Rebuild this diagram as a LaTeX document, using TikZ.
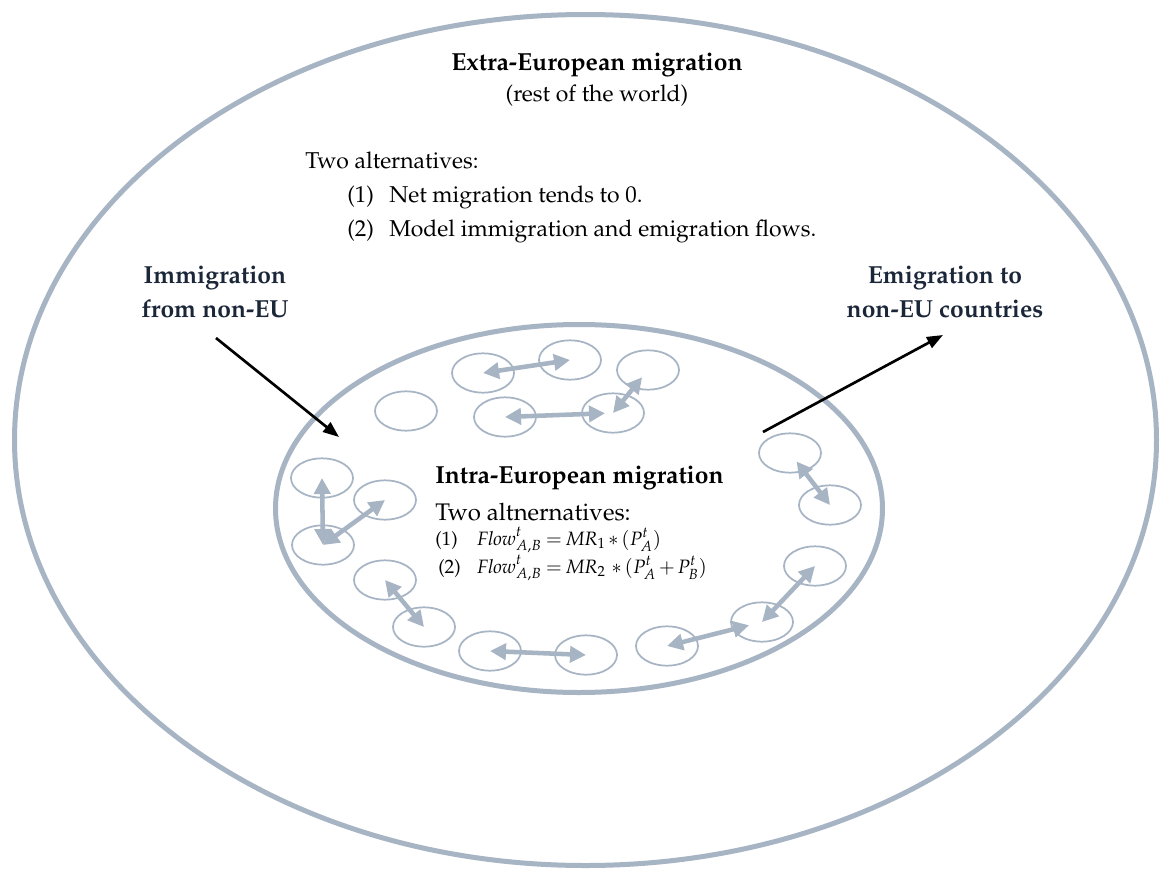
\documentclass[tikz,border=0pt]{standalone}
\usepackage[T1]{fontenc}
\usepackage{mathpazo}
\usetikzlibrary{arrows.meta,shapes.geometric}
\definecolor{ring}{HTML}{A7B4C4}
\definecolor{navy}{HTML}{1B2738}
\begin{document}
\begin{tikzpicture}[x=0.75pt,y=-0.75pt,
  cty/.style={draw=ring,line width=1.3pt,ellipse,minimum width=46.5pt,minimum height=29.5pt,inner sep=0pt},
  flow/.style={draw=ring,line width=3.4pt,{Triangle[length=12pt,width=12pt]}-{Triangle[length=12pt,width=12pt]}},
  mig/.style={draw=black,line width=2pt,-{Triangle[length=12pt,width=9pt]}},
  lab/.style={font=\fontsize{18.5}{22}\selectfont\bfseries,text=navy,anchor=base,inner sep=0pt},
  ttl/.style={font=\fontsize{18.5}{22}\selectfont\bfseries,anchor=base,inner sep=0pt},
  ttlb/.style={font=\fontsize{18.5}{22}\selectfont\bfseries,anchor=base west,inner sep=0pt},
  txt/.style={font=\fontsize{17.2}{20}\selectfont,anchor=base west,inner sep=0pt},
  txtc/.style={font=\fontsize{17.2}{20}\selectfont,anchor=base,inner sep=0pt},
  txtb/.style={font=\fontsize{18}{21}\selectfont,anchor=base west,inner sep=0pt},
  fml/.style={font=\fontsize{14.5}{17}\selectfont,anchor=base west,inner sep=0pt}]
\fill[white] (0,0) rectangle (1161,871);
\useasboundingbox (0,0) rectangle (1161,871);
% big rings
\draw[ring,line width=3.75pt] (585.5,440) ellipse [x radius=571, y radius=425.5];
\draw[ring,line width=3.75pt] (579,508.5) ellipse [x radius=303.5, y radius=184];
% top texts
\node[ttl] (title) at (597,70) {Extra-European migration};
\node[txtc] (rest) at (597,101) {(rest of the world)};
\node[txt] (alt) at (305,168) {Two alternatives:};
\node[txt] (a1n) at (347,202) {(1)};
\node[txt] (a1t) at (389,202) {Net migration tends to 0.};
\node[txt] (a2n) at (347,236) {(2)};
\node[txt] (a2t) at (389,236) {Model immigration and emigration flows.};
% labels
\node[lab] (im1) at (215,283) {Immigration};
\node[lab] (im2) at (215,317) {from non-EU};
\node[lab] (em1) at (945,283) {Emigration to};
\node[lab] (em2) at (945,317) {non-EU countries};
\coordinate (imS) at (216,338);
\coordinate (imT) at (339,437);
\coordinate (emS) at (763,432);
\coordinate (emT) at (943,335);
\draw[mig] (imS) -- (imT);
\draw[mig] (emS) -- (emT);
% inner texts
\node[ttlb] (intra) at (435,483) {Intra-European migration};
\node[txtb] (alt2) at (435,520) {Two altnernatives:};
\node[fml] (f1n) at (435,545) {(1)};
\node[fml] (f1) at (477,545) {\medmuskip=2.5mu\thickmuskip=4mu$\mathit{Flow}^{t}_{A,B} = \mathit{MR}_1 * (P^{t}_{A})$};
\node[fml] (f2n) at (438,573) {(2)};
\node[fml] (f2) at (477,573) {\medmuskip=2.5mu\thickmuskip=4mu$\mathit{Flow}^{t}_{A,B} = \mathit{MR}_2\, * (P^{t}_{A} + P^{t}_{B})$};
% small countries
\node[cty] (T1) at (483,373) {};
\node[cty] (T2) at (570,360) {};
\node[cty] (T3) at (648,370) {};
\node[cty] (T4) at (406,411) {};
\node[cty] (T5) at (505,417) {};
\node[cty] (T6) at (613,413) {};
\node[cty] (A) at (322,478) {};
\node[cty] (B) at (385,500) {};
\node[cty] (C) at (323,545) {};
\node[cty] (D) at (385,580) {};
\node[cty] (E) at (424,627) {};
\node[cty] (F) at (490,651) {};
\node[cty] (G) at (586,655) {};
\node[cty] (H) at (667,646) {};
\node[cty] (I) at (762,622) {};
\node[cty] (J) at (815,566) {};
\node[cty] (K) at (790,453) {};
\node[cty] (L) at (830,505) {};
% flows
\draw[flow] (T1.center) -- (T2.center);
\draw[flow,shorten >=6pt] (T5.center) -- (T6.center);
\draw[flow,shorten >=7pt] (T6.center) -- (T3.center);
\draw[flow] (A.center) -- (C.center);
\draw[flow] (B.center) -- (C.center);
\draw[flow] (D.center) -- (E.center);
\draw[flow] (F.center) -- (G.center);
\draw[flow,shorten >=10pt] (H.center) -- (I.center);
\draw[flow] (J.center) -- (I.center);
\draw[flow,shorten <=8pt] (K.center) -- (L.center);
\end{tikzpicture}
\end{document}
